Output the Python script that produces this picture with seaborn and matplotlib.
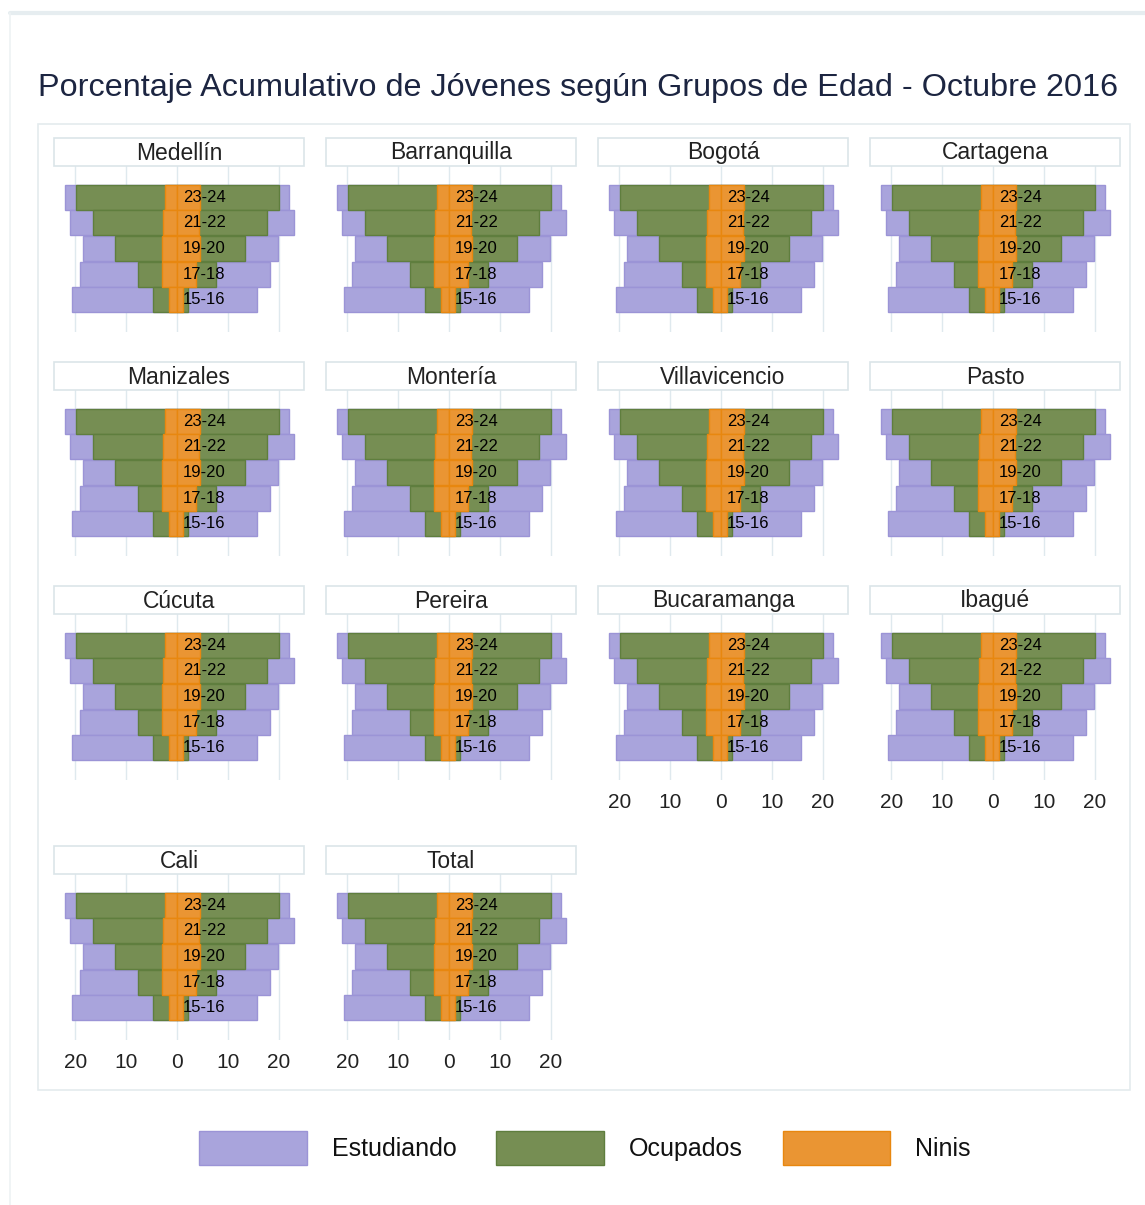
import matplotlib
matplotlib.use("Agg")
import matplotlib.pyplot as plt
from matplotlib.patches import Rectangle, Patch
from matplotlib.ticker import FuncFormatter
import seaborn as sns
import pandas as pd

# ---------------- data ----------------
cities = ['Medellín', 'Barranquilla', 'Bogotá', 'Cartagena',
          'Manizales', 'Montería', 'Villavicencio', 'Pasto',
          'Cúcuta', 'Pereira', 'Bucaramanga', 'Ibagué',
          'Cali', 'Total']
ages = ['23-24', '21-22', '19-20', '17-18', '15-16']
series = ['Estudiando', 'Ocupados', 'Ninis']

estudiando_izq = [22.1, 21.0, 18.4, 19.1, 20.7]
estudiando_der = [22.1, 23.0, 19.8, 18.4, 15.7]
ocupados_izq = [19.8, 16.5, 12.2, 7.7, 4.8]
ocupados_der = [20.1, 17.8, 13.4, 7.7, 2.1]
ninis_izq = [2.4, 2.7, 2.9, 2.9, 1.6]
ninis_der = [4.6, 4.4, 4.6, 3.8, 1.2]

x_ticks = [-20, -10, 0, 10, 20]

fills = {'Estudiando': '#a9a4dc', 'Ocupados': '#768e53', 'Ninis': '#ea9533'}
edges = {'Estudiando': '#9b94d6', 'Ocupados': '#5f7e3e', 'Ninis': '#e8870f'}

values = {
    ('Estudiando', 'izq'): estudiando_izq, ('Estudiando', 'der'): estudiando_der,
    ('Ocupados', 'izq'): ocupados_izq, ('Ocupados', 'der'): ocupados_der,
    ('Ninis', 'izq'): ninis_izq, ('Ninis', 'der'): ninis_der,
}

rows = []
for c in cities:
    for (s, side), vals in values.items():
        for a, v in zip(ages, vals):
            rows.append({'ciudad': c, 'serie': s, 'lado': side, 'edad': a,
                         'valor': -v if side == 'izq' else v})
df = pd.DataFrame(rows)

# ---------------- style ----------------
sns.set_theme(style="white")
FONT = ['Liberation Sans', 'DejaVu Sans']
plt.rcParams['font.family'] = FONT

W, H = 1145, 1205


def fx(x):
    return x / W


def fy(y):
    return 1 - y / H


def draw(data, **kw):
    ax = plt.gca()
    for s in series:
        for side in ['izq', 'der']:
            sub = data[(data['serie'] == s) & (data['lado'] == side)]
            sns.barplot(data=sub, x='valor', y='edad', order=ages, orient='h',
                        color=fills[s], edgecolor=edges[s], linewidth=1.0,
                        width=0.98, saturation=1, ax=ax, errorbar=None)
    for i, a in enumerate(ages):
        ax.text(1.2, i, a, ha='left', va='center', fontsize=12,
                color='#000000', family=FONT)


g = sns.FacetGrid(df, col='ciudad', col_wrap=4, col_order=cities,
                  sharex=True, sharey=True, height=2.2, aspect=1.4)
g.map_dataframe(draw)
g.set_titles("")
g.set_axis_labels("", "")

fig = g.figure
fig.set_size_inches(W / 100, H / 100)
fig.set_dpi(100)

col_x = [54, 326, 598, 870]
strip_top = [138, 362, 586, 846]
strip_h = 28
ax_w = 250
ax_h = 166

for i, (ax, c) in enumerate(zip(g.axes.flat, cities)):
    r, cidx = divmod(i, 4)
    x0 = col_x[cidx]
    top = strip_top[r] + strip_h
    ax.set_position([fx(x0), fy(top + ax_h), ax_w / W, ax_h / H])
    ax.set_xlim(-24.2, 25.0)
    ax.set_ylim(5.26, -1.22)
    ax.set_xticks(x_ticks)
    ax.xaxis.set_major_formatter(FuncFormatter(lambda v, p: f"{abs(int(v))}"))
    ax.set_yticks([])
    ax.grid(axis='x', color='#dfe9ee', linewidth=1.0)
    ax.grid(axis='y', visible=False)
    ax.set_axisbelow(True)
    for sp in ax.spines.values():
        sp.set_visible(False)
    ax.tick_params(axis='x', length=0, pad=9, labelsize=15, labelcolor='#222222',
                   labelbottom=(i >= 10))
    for lab in ax.get_xticklabels():
        lab.set_visible(i >= 10)
        lab.set_family(FONT)
    # strip header
    fig.add_artist(Rectangle((fx(x0), fy(strip_top[r] + strip_h)), ax_w / W, strip_h / H,
                             transform=fig.transFigure, facecolor='white',
                             edgecolor='#dbe5e9', linewidth=1.2))
    fig.text(fx(x0 + ax_w / 2), fy(strip_top[r] + strip_h / 2 + 1), c,
             ha='center', va='center', fontsize=16.5, color='#222222', family=FONT)

# frames
fig.add_artist(Rectangle((fx(38), fy(1090)), (1130 - 38) / W, (1090 - 124) / H,
                         transform=fig.transFigure, facecolor='none',
                         edgecolor='#e4ebee', linewidth=1.2, zorder=-5))
fig.add_artist(plt.Line2D([fx(10), 1], [fy(13), fy(13)], transform=fig.transFigure,
                          color='#e6edf0', linewidth=3))
fig.add_artist(plt.Line2D([fx(10), fx(10)], [fy(13), 0], transform=fig.transFigure,
                          color='#eef2f4', linewidth=1.2))

fig.text(fx(38), fy(88), "Porcentaje Acumulativo de Jóvenes según Grupos de Edad - Octubre 2016",
         ha='left', va='center', fontsize=23.3, color='#1c2541', family=FONT)

handles = [Patch(facecolor=fills[s], edgecolor=edges[s], linewidth=1.0) for s in series]
leg = fig.legend(handles, series, loc='center', bbox_to_anchor=(fx(585), fy(1148)),
                 ncol=3, frameon=False, fontsize=18, handlelength=4.3, handleheight=1.75,
                 handletextpad=1.0, columnspacing=1.6)
for t in leg.get_texts():
    t.set_family(FONT)
    t.set_color('#111111')

fig.savefig("out.png", dpi=100)
